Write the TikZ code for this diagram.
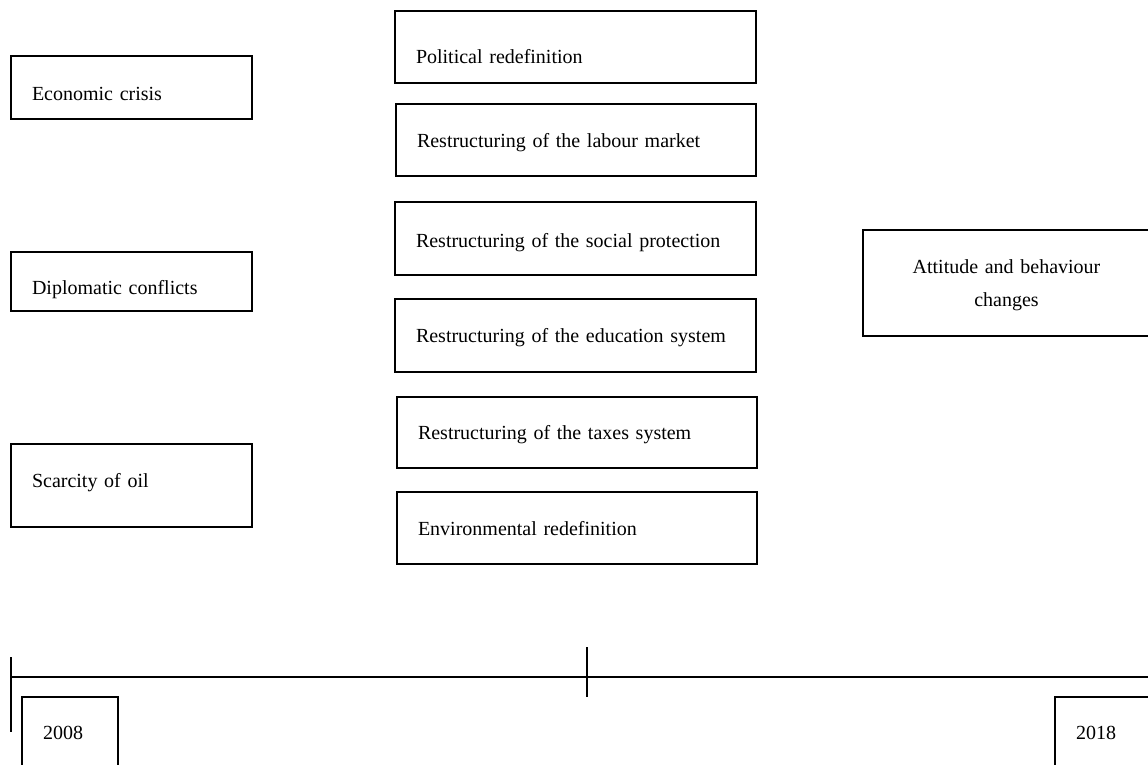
\documentclass[tikz,border=0pt]{standalone}
\usepackage{fontspec}
\setmainfont{Liberation Serif}
\begin{document}
\begin{tikzpicture}[x=1pt,y=-1pt,
  bx/.style={draw, line width=1.5pt, outer sep=0pt, inner xsep=21pt, inner ysep=0pt,
    anchor=north west, align=left, font=\fontsize{20}{33}\selectfont},
  cbx/.style={bx, inner xsep=0pt, align=center},
  tline/.style={line width=1.8pt}]
\useasboundingbox (0,0) rectangle (1148,764);
% left column
\node[bx, text width=199pt, text height=44pt, text depth=19pt] (eco) at (11,56) {Economic crisis};
\node[bx, text width=199pt, text height=42pt, text depth=17pt] (dip) at (11,252) {Diplomatic conflicts};
\node[bx, text width=199pt, text height=43pt, text depth=40pt] (oil) at (11,444) {Scarcity of oil};
% middle column
\node[bx, text width=319pt, text height=52pt, text depth=20pt] (pol) at (395,11) {Political redefinition};
\node[bx, text width=318pt, text height=43pt, text depth=29pt] (lab) at (396,104) {Restructuring of the labour market};
\node[bx, text width=319pt, text height=45pt, text depth=28pt] (soc) at (395,202) {Restructuring of the social protection};
\node[bx, text width=319pt, text height=43pt, text depth=30pt] (edu) at (395,299) {Restructuring of the education system};
\node[bx, text width=318pt, text height=42pt, text depth=29pt] (tax) at (397,397) {Restructuring of the taxes system};
\node[bx, text width=318pt, text height=43pt, text depth=29pt] (env) at (397,492) {Environmental redefinition};
% right
\node[cbx, text width=287pt, text height=43pt, text depth=63pt] (att) at (863,230) {Attitude and behaviour\\changes};
% timeline
\coordinate (h0) at (11,677);
\coordinate (h1) at (1148,677);
\coordinate (v0) at (11,657);
\coordinate (v1) at (11,732);
\coordinate (m0) at (587,647);
\coordinate (m1) at (587,697);
\draw[tline] (h0) -- (h1);
\draw[tline] (v0) -- (v1);
\draw[tline] (m0) -- (m1);
\node[bx, text width=54pt, text height=42pt, text depth=61pt] (y08) at (22,697) {2008};
\node[bx, text width=103pt, text height=42pt, text depth=61pt] (y18) at (1055,697) {2018};
\end{tikzpicture}
\end{document}
